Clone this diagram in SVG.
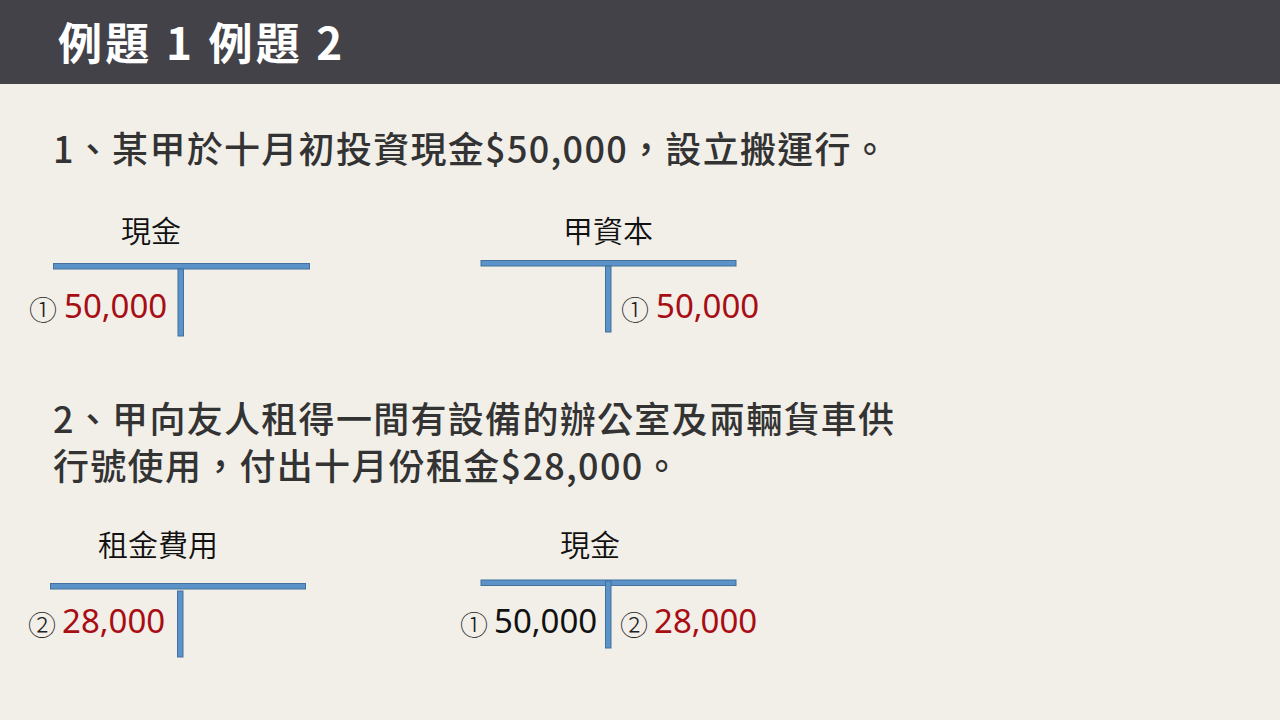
<svg xmlns="http://www.w3.org/2000/svg" width="1280" height="720" viewBox="0 0 1280 720">
<style>
.title{font-family:"Noto Sans CJK TC","Noto Sans",sans-serif;font-size:44px;font-weight:700;fill:#ffffff;letter-spacing:3.3px}
.q{font-family:"Noto Sans CJK TC","Noto Sans",sans-serif;font-size:36px;font-weight:500;fill:#333333;letter-spacing:1.3px}
.lbl{font-family:"Noto Sans CJK TC",sans-serif;font-size:30px;font-weight:350;fill:#111111}
.circ{font-family:"Noto Sans CJK TC",sans-serif;font-size:28px;font-weight:300;fill:#222222}
.num{font-family:"Noto Sans",sans-serif;font-size:33px;font-weight:400}
.red{fill:#a80d14}
.blk{fill:#111111}
.bar{fill:#5b93c8;stroke:#41719c;stroke-width:1}
</style>
<rect x="0" y="0" width="1280" height="720" fill="#f2efe9"/>
<rect x="0" y="0" width="1280" height="84" fill="#434249"/>
<text class="title" x="58" y="60">例題 1 例題 2</text>

<text class="q" x="53" y="163">1、某甲於十月初投資現金$50,000，設立搬運行。</text>
<text class="q" x="53" y="433">2、甲向友人租得一間有設備的辦公室及兩輛貨車供</text>
<text class="q" x="53" y="480">行號使用，付出十月份租金$28,000。</text>

<g id="t-cash1">
<text class="lbl" x="151" y="242" text-anchor="middle">現金</text>
<rect class="bar" x="53.5" y="263.5" width="256" height="5.5"/>
<rect class="bar" x="178" y="269" width="5.5" height="67"/>
<text class="circ" x="29" y="321">①</text>
<text class="num red" x="64" y="318">50,000</text>
</g>

<g id="t-capital">
<text class="lbl" x="608" y="242" text-anchor="middle">甲資本</text>
<rect class="bar" x="481" y="260.5" width="255" height="5.5"/>
<rect class="bar" x="605.5" y="266" width="5.5" height="66"/>
<text class="circ" x="621" y="321">①</text>
<text class="num red" x="656" y="318">50,000</text>
</g>

<g id="t-rent">
<text class="lbl" x="158" y="556" text-anchor="middle">租金費用</text>
<rect class="bar" x="50.5" y="583.5" width="255" height="5.5"/>
<rect class="bar" x="177.5" y="591" width="5.5" height="66"/>
<text class="circ" x="28" y="636">②</text>
<text class="num red" x="62" y="633">28,000</text>
</g>

<g id="t-cash2">
<text class="lbl" x="590" y="556" text-anchor="middle">現金</text>
<rect class="bar" x="481" y="580" width="255" height="5.5"/>
<rect class="bar" x="605.5" y="581" width="5.5" height="67"/>
<text class="circ" x="460" y="636">①</text>
<text class="num blk" x="494" y="633">50,000</text>
<text class="circ" x="620" y="636">②</text>
<text class="num red" x="654" y="633">28,000</text>
</g>
</svg>
